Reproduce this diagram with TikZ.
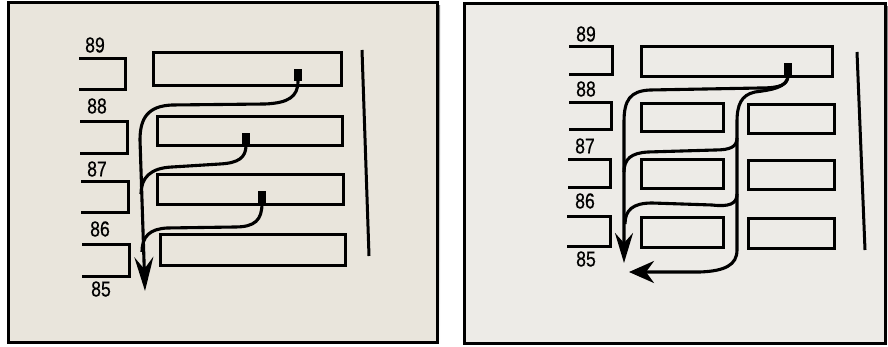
\documentclass[tikz,border=0pt]{standalone}
\usepackage{fontspec}
\setmainfont{Liberation Sans}
\newfontfamily\lblfont[FakeStretch=0.82,FakeBold=0.6]{Liberation Sans}
\usetikzlibrary{arrows.meta}
\definecolor{pageL}{HTML}{E9E5DC}
\definecolor{pageR}{HTML}{EDEBE7}
\definecolor{shade}{HTML}{BDBDBD}
\begin{document}
\begin{tikzpicture}[x=1pt,y=-1pt,
  frame/.style={draw=black, line width=3pt},
  shelf/.style={draw=black, line width=3pt},
  bracket/.style={draw=black, line width=3pt},
  route/.style={draw=black, line width=3.1pt},
  lbl/.style={font=\lblfont\fontsize{21.5}{21.5}\selectfont, inner sep=0pt},
  marker/.style={fill=black, minimum width=8pt, minimum height=12pt, inner sep=0pt},
  tipL/.style={-{Stealth[length=34pt,width=19pt,inset=12pt]}},
  tipA/.style={-{Stealth[length=30pt,width=18pt,inset=10pt]}},
  tipB/.style={-{Stealth[length=25pt,width=22pt,inset=8pt]}}
]
\useasboundingbox (0,0) rectangle (888,347);
\fill[white] (0,0) rectangle (888,347);
% frames with light shadow
\fill[shade] (11,6) rectangle (440,345);
\fill[shade] (467,7) rectangle (888,347);
\fill[pageL] (8,3) rectangle (437,342);
\draw[frame] (8,3) rectangle (437,342);
\fill[pageR] (464,4) rectangle (885.5,343);
\draw[frame] (464,4) rectangle (885.5,343);

% ---------- left panel ----------
\node[lbl] (l89) at (95,45) {89};
\node[lbl] (l88) at (97,106) {88};
\node[lbl] (l87) at (97,169) {87};
\node[lbl] (l86) at (100,229) {86};
\node[lbl] (l85) at (101,289) {85};
\draw[bracket] (79,59) -- (125,59) -- (125,90) -- (79,90);
\draw[bracket] (80,122) -- (127,122) -- (127,154) -- (80,154);
\draw[bracket] (81,182) -- (128,182) -- (128,213) -- (81,213);
\draw[bracket] (82,245) -- (129,245) -- (129,276) -- (82,276);
\draw[shelf] (153,53) rectangle (341,86);
\draw[shelf] (157,117) rectangle (342,146);
\draw[shelf] (157,175) rectangle (343,205);
\draw[shelf] (160,235) rectangle (345,265);
\draw[shelf] (362,50) -- (369,256);
\node[marker] (m1) at (298,75) {};
\node[marker] (m2) at (246,139) {};
\node[marker] (m3) at (262,197) {};
\coordinate (e1) at (145,291);
\draw[route, tipL] (m1.south) .. controls (298,97) and (288,103) .. (265,104) -- (172,105)
  .. controls (148,106) and (140,118) .. (140,140) -- (e1);
\draw[route] (m2.south) .. controls (246,158) and (238,163) .. (220,164) -- (172,167)
  .. controls (150,168) and (141,178) .. (141,194);
\draw[route] (m3.south) .. controls (262,220) and (255,227) .. (235,227) -- (167,228)
  .. controls (150,229) and (142,236) .. (142,252);

% ---------- right panel ----------
\node[lbl] (r89) at (586,34) {89};
\node[lbl] (r88) at (586,89) {88};
\node[lbl] (r87) at (585,146) {87};
\node[lbl] (r86) at (585,201) {86};
\node[lbl] (r85) at (586,259) {85};
\draw[bracket] (569,47) -- (612,47) -- (612,75) -- (569,75);
\draw[bracket] (569,103) -- (611,103) -- (611,130) -- (569,130);
\draw[bracket] (568,160) -- (610,160) -- (610,188) -- (568,188);
\draw[bracket] (567,217) -- (610,217) -- (610,247) -- (567,247);
\draw[shelf] (641,47) rectangle (832,77);
\draw[shelf] (641,104) rectangle (723,132);
\draw[shelf] (748,105) rectangle (834,134);
\draw[shelf] (641,160) rectangle (723,189);
\draw[shelf] (748,161) rectangle (834,190);
\draw[shelf] (641,218) rectangle (723,248);
\draw[shelf] (748,219) rectangle (834,249);
\draw[shelf] (857,52) -- (865,250);
\node[marker] (m4) at (788,69) {};
\coordinate (eA) at (624,263);
\coordinate (eB) at (629,272);
\draw[route, tipA] (m4.south) .. controls (788,85) and (780,88) .. (760,88) -- (650,90)
  .. controls (630,91) and (624,100) .. (624,122) -- (eA);
\draw[route, tipB] (m4.south) .. controls (788,88) and (770,90) .. (755,92)
  .. controls (741,95) and (737,105) .. (737,122) -- (737,250)
  .. controls (737,265) and (725,271) .. (700,272) -- (eB);
\draw[route] (737,138) .. controls (737,147) and (730,150) .. (715,150) -- (648,152)
  .. controls (631,153) and (624,159) .. (624,172);
\draw[route] (737,194) .. controls (737,204) and (729,207) .. (712,205) -- (652,203)
  .. controls (633,203) and (625,210) .. (625,224);
\end{tikzpicture}
\end{document}
